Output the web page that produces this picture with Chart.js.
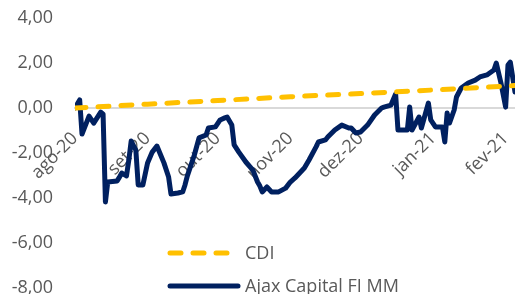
<!DOCTYPE html>
<html>
<head>
<meta charset="utf-8">
<script src="https://cdn.jsdelivr.net/npm/chart.js@4.4.1/dist/chart.umd.min.js"></script>
<style>
  html,body{margin:0;padding:0;background:#fff;}
  #wrap{width:515px;height:294px;}
</style>
</head>
<body>
<div id="wrap"><canvas id="c"></canvas></div>
<script>
// dias desde 01/08/2020
const monthDays = [0, 31, 61, 92, 122, 153, 184];
const monthLabels = ['ago-20', 'set-20', 'out-20', 'nov-20', 'dez-20', 'jan-21', 'fev-21'];

const cdiDays = [0, 31, 61, 92, 122, 153, 184, 188];
const cdiValues = [0.00, 0.17, 0.33, 0.50, 0.64, 0.80, 0.97, 1.00];

const ajaxDays = [0, 2, 3, 6, 8, 11, 12, 13, 14, 18, 19, 20, 22, 23, 24, 26, 27, 29, 31, 33, 35, 38, 40, 41,
  44, 46, 47, 48, 51, 53, 56, 57, 60, 62, 64, 65, 67, 68, 70, 73, 76, 78, 79, 80, 82, 84, 87, 90, 92, 94,
  98, 100, 103, 104, 107, 108, 111, 114, 117, 118, 120, 122, 125, 128, 131, 132, 135, 137, 138, 142, 143,
  144, 147, 148, 151, 152, 154, 157, 158, 159, 160, 162, 163, 165, 168, 171, 173, 176, 179, 180, 182,
  184, 185, 186, 188];
const ajaxValues = [0.00, 0.36, -1.16, -0.36, -0.67, -0.18, -0.27, -4.18, -3.29, -3.24, -3.07, -2.89, -3.02,
  -2.31, -1.47, -1.87, -3.42, -3.42, -2.44, -1.96, -1.69, -2.44, -3.07, -3.82, -3.78, -3.73, -3.42, -3.02,
  -2.09, -1.33, -1.20, -0.89, -0.84, -0.53, -0.44, -0.40, -0.76, -1.64, -1.96, -2.40, -2.76, -3.29, -3.47,
  -3.73, -3.51, -3.73, -3.73, -3.56, -3.29, -3.11, -2.67, -2.31, -1.73, -1.51, -1.42, -1.29, -0.98, -0.76,
  -0.89, -0.89, -1.11, -1.07, -0.76, -0.31, 0.00, 0.04, 0.13, 0.62, -0.98, -0.98, 0.04, -0.98, -0.40,
  -0.89, 0.22, -0.53, -0.84, -0.84, -1.51, -0.22, -0.67, -0.09, 0.49, 0.89, 1.11, 1.24, 1.38, 1.47, 1.69,
  2.00, 1.11, 0.04, 1.91, 2.04, 0.71];

const NAVY = '#002060';
const GOLD = '#FFC000';
const GREY_TXT = '#595959';

Chart.defaults.font.family = '"Open Sans", sans-serif';
Chart.defaults.font.size = 18;
Chart.defaults.color = GREY_TXT;

const toXY = (xs, ys) => xs.map((x, i) => ({x, y: ys[i]}));
const noPad = s => { s.paddingTop = 0; s.paddingBottom = 0; s.paddingLeft = 0; s.paddingRight = 0; };

// legenda dentro da area do grafico, como no original
const innerLegend = {
  id: 'innerLegend',
  afterDraw(chart){
    const ctx = chart.ctx;
    const items = chart.data.datasets.map(ds => ({
      text: ds.label, color: ds.borderColor, dash: ds.borderDash || []
    }));
    const rows = [253, 286];
    ctx.save();
    ctx.font = '18px "Open Sans", sans-serif';
    ctx.textBaseline = 'middle';
    items.forEach((it, i) => {
      const y = rows[i];
      ctx.beginPath();
      ctx.strokeStyle = it.color;
      ctx.lineWidth = 5;
      ctx.lineCap = 'round';
      ctx.setLineDash(it.dash);
      ctx.moveTo(170, y);
      ctx.lineTo(it.dash.length ? 232 : 238, y);
      ctx.stroke();
      ctx.setLineDash([]);
      ctx.fillStyle = GREY_TXT;
      ctx.fillText(it.text, 245, y + 1);
    });
    ctx.restore();
  }
};

new Chart(document.getElementById('c'), {
  type: 'line',
  data: {
    datasets: [
      {
        label: 'CDI',
        data: toXY(cdiDays, cdiValues),
        borderColor: GOLD,
        borderWidth: 5,
        borderDash: [11, 12],
        borderCapStyle: 'round',
        pointRadius: 0,
        tension: 0
      },
      {
        label: 'Ajax Capital FI MM',
        data: toXY(ajaxDays, ajaxValues),
        borderColor: NAVY,
        borderWidth: 5,
        borderJoinStyle: 'round',
        borderCapStyle: 'round',
        pointRadius: 0,
        tension: 0
      }
    ]
  },
  options: {
    responsive: true,
    maintainAspectRatio: false,
    animation: false,
    layout: {padding: {top: 18, bottom: 6, left: 0, right: 0}},
    plugins: {legend: {display: false}, tooltip: {enabled: false}},
    scales: {
      x: {
        type: 'linear',
        min: 0,
        max: 188,
        position: {y: 0},
        grid: {display: false, drawTicks: false},
        border: {display: true, color: '#D9D9D9', width: 2},
        afterBuildTicks: s => { s.ticks = monthDays.map(v => ({value: v})); },
        afterFit: s => { s.height = 0; noPad(s); },
        ticks: {
          autoSkip: false,
          minRotation: 45,
          maxRotation: 45,
          padding: 20,
          callback: v => monthLabels[monthDays.indexOf(v)]
        }
      },
      y: {
        min: -8,
        max: 4,
        grid: {display: false, drawTicks: false},
        border: {display: false},
        afterFit: s => { s.width = 75; noPad(s); },
        ticks: {
          stepSize: 2,
          padding: 22,
          callback: v => v.toFixed(2).replace('.', ',')
        }
      }
    }
  },
  plugins: [innerLegend]
});
</script>
</body>
</html>
